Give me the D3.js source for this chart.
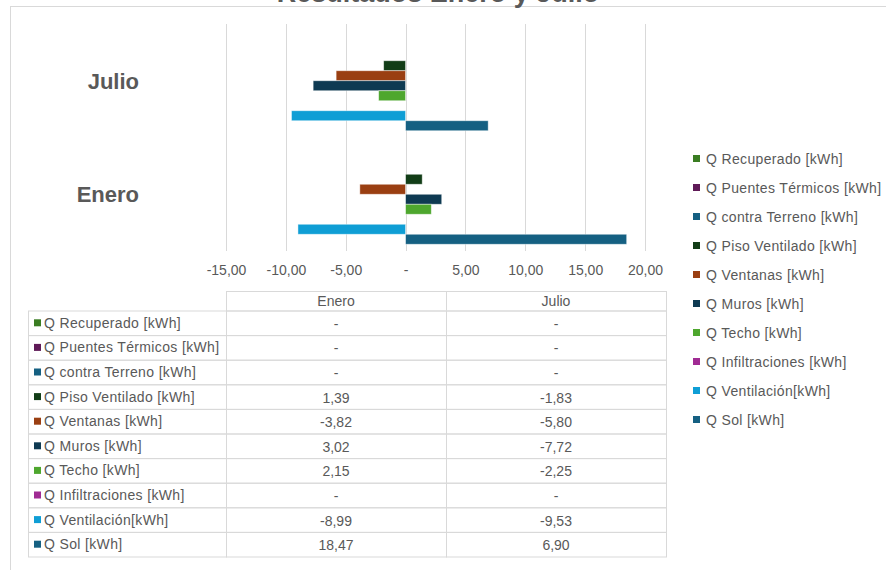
<!DOCTYPE html>
<html>
<head>
<meta charset="utf-8">
<script src="https://cdn.jsdelivr.net/npm/d3@7/dist/d3.min.js"></script>
<style>
  html, body { margin: 0; padding: 0; background: #ffffff; }
  svg { display: block; font-family: "Liberation Sans", Arial, sans-serif; }
</style>
</head>
<body>
<svg id="chart" width="886" height="570"></svg>
<script>
// Categorías (meses) y series del balance térmico
const categorias = ["Julio", "Enero"];
const series = [
  "Q Recuperado [kWh]",
  "Q Puentes Térmicos [kWh]",
  "Q contra Terreno [kWh]",
  "Q Piso Ventilado [kWh]",
  "Q Ventanas [kWh]",
  "Q Muros [kWh]",
  "Q Techo [kWh]",
  "Q Infiltraciones [kWh]",
  "Q Ventilación[kWh]",
  "Q Sol [kWh]"
];
// null = sin valor (se muestra "-")
const valoresEnero = [null, null, null, 1.39, -3.82, 3.02, 2.15, null, -8.99, 18.47];
const valoresJulio = [null, null, null, -1.83, -5.80, -7.72, -2.25, null, -9.53, 6.90];
const colores = ["#3a7d22", "#5f1a57", "#156082", "#123d17", "#9a3f12", "#0e3a52", "#4ea72e", "#a02b93", "#0f9ed5", "#156082"];
const ticksEje = [-15, -10, -5, 0, 5, 10, 15, 20];
const columnasTabla = ["Enero", "Julio"];
const titulo = "Resultados Enero y Julio";

const valoresPorMes = { "Enero": valoresEnero, "Julio": valoresJulio };

const locale = d3.formatLocale({ decimal: ",", thousands: ".", grouping: [3], currency: ["", ""], minus: "-" });
const f2 = locale.format(",.2f");
const fmtValor = v => (v === null || v === 0) ? "-" : f2(v);

const svg = d3.select("#chart");
const gris = "#595959";
const linea = "#d9d9d9";

// Marco del área del gráfico
svg.append("rect")
  .attr("x", 10.5).attr("y", 6.5)
  .attr("width", 900).attr("height", 600)
  .attr("fill", "#ffffff").attr("stroke", linea).attr("stroke-width", 1);

// Título (queda por encima del borde superior de la página)
svg.append("text")
  .attr("x", 438).attr("y", 1.5)
  .attr("text-anchor", "middle")
  .attr("font-size", 27).attr("font-weight", "bold")
  .attr("fill", gris)
  .text(titulo);

// Escalas
const x = d3.scaleLinear().domain([-15, 20]).range([226, 645]);
const y = d3.scaleBand().domain(categorias).range([24, 251]).paddingInner(0.119).paddingOuter(0.0595);
const ySerie = d3.scaleBand().domain(series).range([0, y.bandwidth()]);

// Líneas de división verticales
svg.append("g").selectAll("line")
  .data(ticksEje)
  .join("line")
  .attr("x1", d => Math.round(x(d)) + 0.5).attr("x2", d => Math.round(x(d)) + 0.5)
  .attr("y1", 24).attr("y2", 251)
  .attr("stroke", linea).attr("stroke-width", 1);

// Eje horizontal (solo etiquetas)
const ejeX = d3.axisBottom(x).tickValues(ticksEje).tickFormat(fmtValor).tickSize(0).tickPadding(0);
const gEje = svg.append("g").attr("transform", "translate(0,275)").call(ejeX);
gEje.select(".domain").remove();
gEje.selectAll("text")
  .attr("font-size", 14).attr("fill", gris)
  .attr("font-family", "Liberation Sans, Arial, sans-serif")
  .attr("dy", 0);

// Etiquetas de categoría
svg.append("g").selectAll("text")
  .data(categorias)
  .join("text")
  .attr("x", 139)
  .attr("y", d => y(d) + y.bandwidth() / 2)
  .attr("dy", "0.36em")
  .attr("text-anchor", "end")
  .attr("font-size", 22).attr("font-weight", "bold")
  .attr("fill", gris)
  .text(d => d);

// Barras
const datosBarras = [];
categorias.forEach(c => {
  series.forEach((s, i) => {
    const v = valoresPorMes[c][i];
    if (v !== null) datosBarras.push({ mes: c, serie: s, valor: v, color: colores[i] });
  });
});
svg.append("g").selectAll("rect")
  .data(datosBarras)
  .join("rect")
  .attr("x", d => x(Math.min(0, d.valor)))
  .attr("width", d => Math.abs(x(d.valor) - x(0)))
  .attr("y", d => y(d.mes) + ySerie(d.serie))
  .attr("height", ySerie.bandwidth())
  .attr("fill", d => d.color)
  .attr("stroke", "rgba(255,255,255,0.55)")
  .attr("stroke-width", 0.8);

// Leyenda
const leyenda = svg.append("g").selectAll("g")
  .data(series)
  .join("g")
  .attr("transform", (d, i) => `translate(693, ${159 + i * 29})`);
leyenda.append("rect")
  .attr("x", 0).attr("y", -4).attr("width", 7).attr("height", 7)
  .attr("fill", (d, i) => colores[i]);
leyenda.append("text")
  .attr("x", 13).attr("y", 0).attr("dy", "0.36em")
  .attr("font-size", 14).attr("letter-spacing", 0.35).attr("fill", gris)
  .text(d => d);

// Tabla de datos
const colX = [28, 226, 446, 666];
const yCab = 291, yFil0 = 310.5, altoFila = 24.6;
const tabla = svg.append("g");
const px = v => Math.round(v) + 0.5;

// Cabecera
tabla.append("rect")
  .attr("x", px(colX[1])).attr("y", px(yCab))
  .attr("width", colX[3] - colX[1]).attr("height", yFil0 - yCab)
  .attr("fill", "none").attr("stroke", linea);
tabla.append("line")
  .attr("x1", px(colX[2])).attr("x2", px(colX[2]))
  .attr("y1", yCab).attr("y2", yFil0)
  .attr("stroke", linea);
tabla.selectAll("text.cab")
  .data(columnasTabla)
  .join("text")
  .attr("class", "cab")
  .attr("x", (d, i) => (colX[i + 1] + colX[i + 2]) / 2)
  .attr("y", (yCab + yFil0) / 2 + 0.5).attr("dy", "0.36em")
  .attr("text-anchor", "middle")
  .attr("font-size", 14).attr("fill", gris)
  .text(d => d);

// Filas
const filas = tabla.selectAll("g.fila")
  .data(series)
  .join("g")
  .attr("class", "fila")
  .attr("transform", (d, i) => `translate(0, ${yFil0 + i * altoFila})`);
filas.each(function (d, i) {
  const g = d3.select(this);
  for (let c = 0; c < 3; c++) {
    g.append("rect")
      .attr("x", px(colX[c])).attr("y", 0.5)
      .attr("width", colX[c + 1] - colX[c]).attr("height", altoFila)
      .attr("fill", "none").attr("stroke", linea);
  }
  g.append("rect")
    .attr("x", 34).attr("y", altoFila / 2 - 3.5).attr("width", 7).attr("height", 7)
    .attr("fill", colores[i]);
  g.append("text")
    .attr("x", 44).attr("y", altoFila / 2).attr("dy", "0.36em")
    .attr("font-size", 14).attr("letter-spacing", 0.35).attr("fill", gris)
    .text(d);
  columnasTabla.forEach((m, k) => {
    g.append("text")
      .attr("x", (colX[k + 1] + colX[k + 2]) / 2)
      .attr("y", altoFila / 2 + 1).attr("dy", "0.36em")
      .attr("text-anchor", "middle")
      .attr("font-size", 14).attr("fill", gris)
      .text(fmtValor(valoresPorMes[m][i]));
  });
});
</script>
</body>
</html>
